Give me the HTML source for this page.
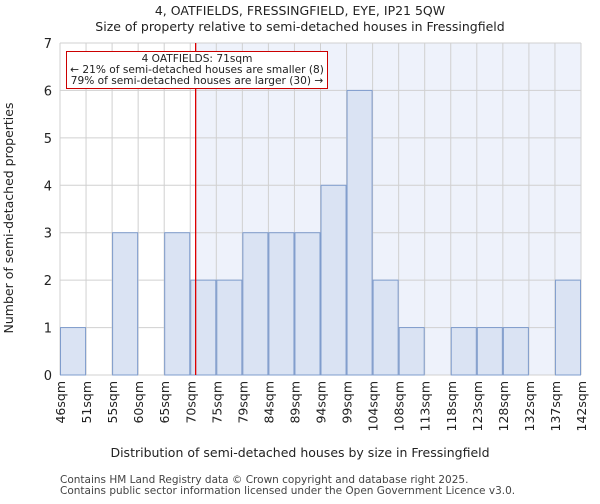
<!DOCTYPE html>
<html><head><meta charset="utf-8"><style>
body{margin:0;background:#fff;font-family:"DejaVu Sans","Liberation Sans",sans-serif;}
svg text{font-family:"DejaVu Sans","Liberation Sans",sans-serif;}
</style></head><body>
<svg id="c" width="600" height="500" xmlns="http://www.w3.org/2000/svg">
<text x="300" y="15" text-anchor="middle" font-size="12.5" fill="#222">4, OATFIELDS, FRESSINGFIELD, EYE, IP21 5QW</text>
<text x="300" y="31" text-anchor="middle" font-size="12.5" fill="#222">Size of property relative to semi-detached houses in Fressingfield</text>
<g id="plot"></g>
<text x="300" y="457" text-anchor="middle" font-size="12.5" fill="#222">Distribution of semi-detached houses by size in Fressingfield</text>
<text transform="translate(13,218) rotate(-90)" text-anchor="middle" font-size="12.5" fill="#222">Number of semi-detached properties</text>
<text x="60" y="483" font-size="10.5" fill="#444">Contains HM Land Registry data © Crown copyright and database right 2025.</text>
<text x="60" y="494" font-size="10.5" fill="#444">Contains public sector information licensed under the Open Government Licence v3.0.</text>
</svg>
<script>
const tickLabels=["46sqm","51sqm","55sqm","60sqm","65sqm","70sqm","75sqm","79sqm","84sqm","89sqm","94sqm","99sqm","104sqm","108sqm","113sqm","118sqm","123sqm","128sqm","132sqm","137sqm","142sqm"];
const counts=[1,0,3,0,3,2,2,3,3,3,4,6,2,1,0,1,1,1,0,2];
const yTicks=[0,1,2,3,4,5,6,7];
const markerIndex=5.2;
const NS="http://www.w3.org/2000/svg";
const g=document.getElementById('plot');
const L=60,R=581,T=43,B=375,yMax=7;
const bw=(R-L)/counts.length;
const xs=i=>L+i*bw;
const ys=v=>B-(v/yMax)*(B-T);
function el(t,a){const e=document.createElementNS(NS,t);for(const k in a)e.setAttribute(k,a[k]);g.appendChild(e);return e;}
const mx=Math.round(xs(markerIndex));
let e=el('rect',{x:L,y:T,width:mx-L,height:B-T,fill:'#ffffff'});

e=el('rect',{x:mx,y:T,width:R-mx,height:B-T,fill:'#eef2fb'});

yTicks.forEach(v=>{
 e=el('line',{x1:L,x2:R,y1:ys(v),y2:ys(v),stroke:'#d0d0d0','stroke-width':1});
 
 e=el('text',{x:L-8,y:ys(v)+5,'text-anchor':'end','font-size':13,fill:'#222'});e.textContent=v;
 
});
tickLabels.forEach((t,i)=>{
 e=el('line',{x1:xs(i),x2:xs(i),y1:T,y2:B,stroke:'#d0d0d0','stroke-width':1});
 
 e=el('text',{transform:`translate(${xs(i)+5},${B+6}) rotate(-90)`,'text-anchor':'end','font-size':12.5,fill:'#222'});e.textContent=t;
 
});
counts.forEach((v,i)=>{
 if(v<=0)return;
 e=el('rect',{x:xs(i)+0.5,y:ys(v),width:bw-1,height:B-ys(v),fill:'#dae3f3',stroke:'#7f9ccc','stroke-width':1});
 
});
e=el('rect',{x:mx,y:T,width:1.3,height:B-T,fill:'#dd0000'});

e=el('rect',{x:66.5,y:51.5,width:261,height:37,fill:'#fff',stroke:'#cc0000','stroke-width':1});

[["4 OATFIELDS: 71sqm",62],["← 21% of semi-detached houses are smaller (8)",73],["79% of semi-detached houses are larger (30) →",84]].forEach((a,i)=>{
 e=el('text',{x:197,y:a[1],'text-anchor':'middle','font-size':10.6,fill:'#222'});e.textContent=a[0];
 
});
</script>
</body></html>
